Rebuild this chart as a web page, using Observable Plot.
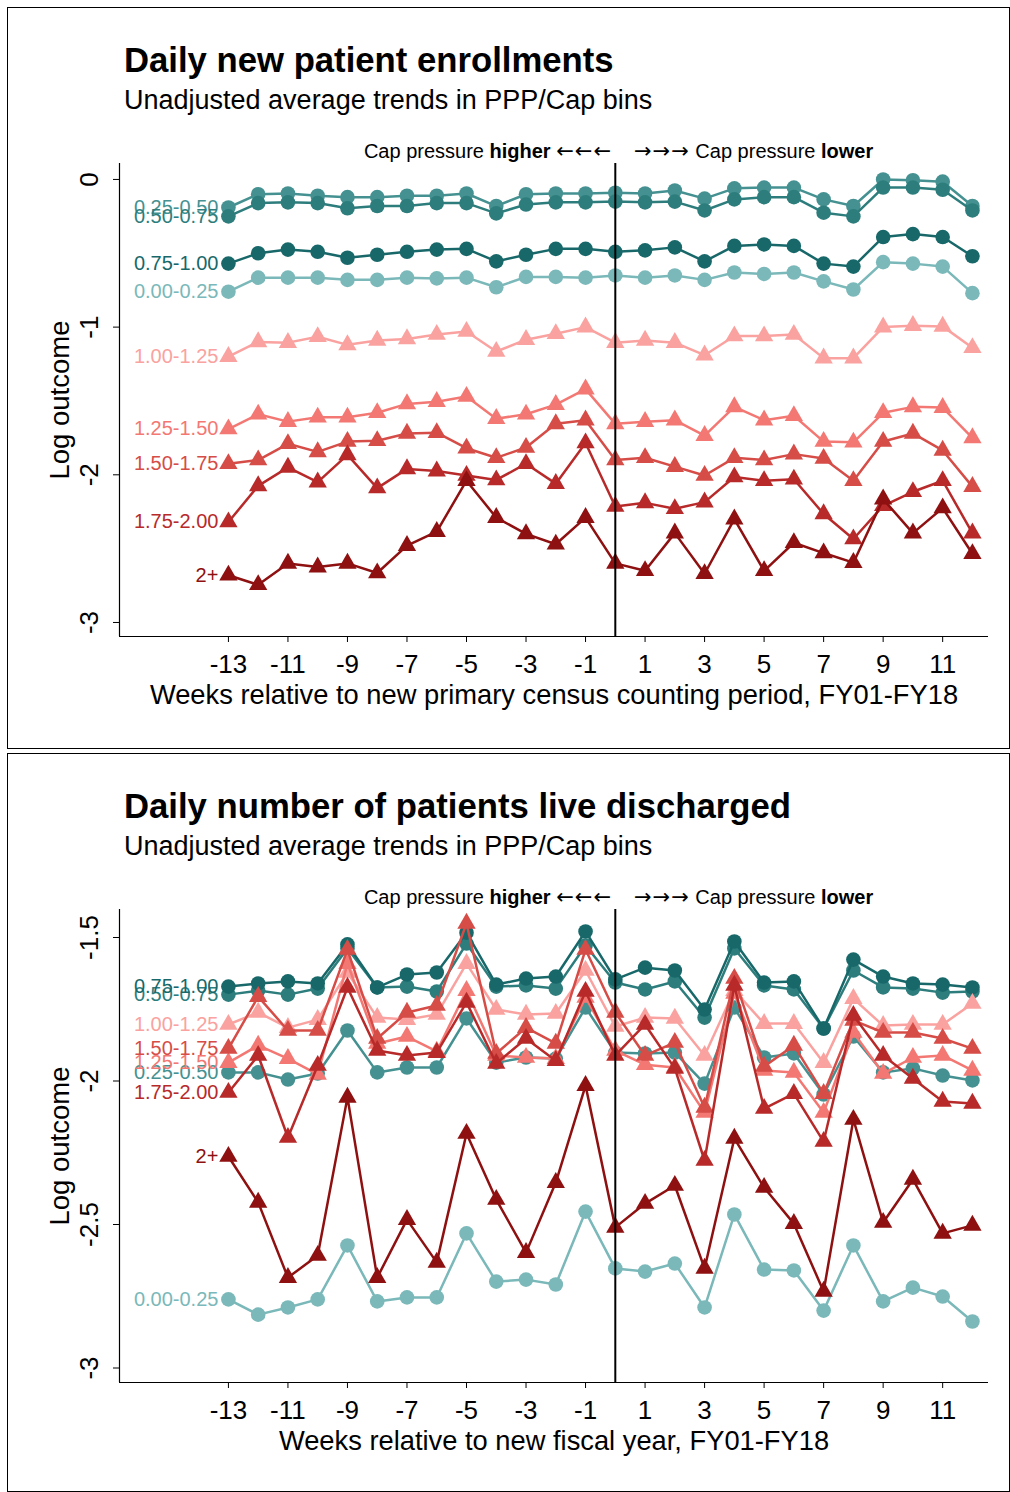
<!DOCTYPE html>
<html>
<head>
<meta charset="utf-8">
<script src="https://cdn.jsdelivr.net/npm/d3@7"></script>
<script src="https://cdn.jsdelivr.net/npm/@observablehq/plot@0.6"></script>
<style>
  html, body { margin: 0; padding: 0; background: #fff; }
  body { font-family: "Liberation Sans", Arial, Helvetica, sans-serif; color: #000; }
  #page { position: relative; width: 1010px; height: 1492px; overflow: hidden; background: #fff; }
  .panel { position: absolute; left: 7px; width: 1003px; border: 1px solid #000; box-sizing: border-box; }
  .title { position: absolute; left: 124px; font-weight: bold; font-size: 34.7px; line-height: 1; white-space: nowrap; }
  .subtitle { position: absolute; left: 124px; font-size: 27px; line-height: 1; white-space: nowrap; }
  .ann { position: absolute; font-size: 20px; line-height: 1; white-space: nowrap; }
  .arr { font-family: "DejaVu Sans", sans-serif; font-size: 21px; letter-spacing: 1px; }
  .chart { position: absolute; left: 0; }
</style>
</head>
<body>
<div id="page">
  <div class="panel" style="top:7px;height:742px;"></div>
  <div class="panel" style="top:753px;height:739px;"></div>

  <div class="title" style="top:43px;">Daily new patient enrollments</div>
  <div class="subtitle" style="top:87px;">Unadjusted average trends in PPP/Cap bins</div>
  <div class="ann" style="top:141px;right:398px;">Cap pressure <b>higher</b> <span class="arr">←←←</span></div>
  <div class="ann" style="top:141px;left:634px;"><span class="arr">→→→</span> Cap pressure <b>lower</b></div>
  <div class="chart" id="chart1" style="top:125px;"></div>

  <div class="title" style="top:789px;">Daily number of patients live discharged</div>
  <div class="subtitle" style="top:833px;">Unadjusted average trends in PPP/Cap bins</div>
  <div class="ann" style="top:887px;right:398px;">Cap pressure <b>higher</b> <span class="arr">←←←</span></div>
  <div class="ann" style="top:887px;left:634px;"><span class="arr">→→→</span> Cap pressure <b>lower</b></div>
  <div class="chart" id="chart2" style="top:871px;"></div>
</div>
<script>
// ---------- data ----------
const weeks = [-13,-12,-11,-10,-9,-8,-7,-6,-5,-4,-3,-2,-1,0,1,2,3,4,5,6,7,8,9,10,11,12];
const xTicks = [-13,-11,-9,-7,-5,-3,-1,1,3,5,7,9,11];
const bins = ["0.00-0.25","0.25-0.50","0.50-0.75","0.75-1.00","1.00-1.25","1.25-1.50","1.50-1.75","1.75-2.00","2+"];

// Panel 1: Daily new patient enrollments (log outcome)
const enrollYTicks = [0,-1,-2,-3];
const enr_000_025 = [-0.76,-0.665,-0.665,-0.665,-0.68,-0.68,-0.665,-0.67,-0.665,-0.73,-0.66,-0.66,-0.665,-0.65,-0.665,-0.65,-0.68,-0.63,-0.64,-0.63,-0.69,-0.745,-0.56,-0.57,-0.59,-0.77];
const enr_025_050 = [-0.19,-0.10,-0.095,-0.11,-0.12,-0.12,-0.11,-0.11,-0.095,-0.18,-0.10,-0.095,-0.095,-0.09,-0.095,-0.075,-0.13,-0.06,-0.055,-0.055,-0.135,-0.18,0.0,-0.005,-0.015,-0.18];
const enr_050_075 = [-0.25,-0.16,-0.155,-0.16,-0.195,-0.18,-0.18,-0.16,-0.16,-0.23,-0.17,-0.155,-0.155,-0.15,-0.155,-0.15,-0.21,-0.135,-0.12,-0.12,-0.225,-0.25,-0.055,-0.055,-0.07,-0.21];
const enr_075_100 = [-0.57,-0.50,-0.475,-0.49,-0.53,-0.51,-0.49,-0.475,-0.47,-0.555,-0.51,-0.47,-0.47,-0.49,-0.48,-0.46,-0.555,-0.45,-0.44,-0.45,-0.57,-0.59,-0.39,-0.37,-0.39,-0.52];
const enr_100_125 = [-1.20,-1.10,-1.105,-1.065,-1.12,-1.09,-1.08,-1.05,-1.03,-1.165,-1.085,-1.045,-1.00,-1.105,-1.09,-1.105,-1.19,-1.06,-1.06,-1.05,-1.21,-1.21,-1.00,-0.99,-0.995,-1.14];
const enr_125_150 = [-1.69,-1.59,-1.64,-1.61,-1.61,-1.58,-1.52,-1.505,-1.47,-1.62,-1.59,-1.525,-1.42,-1.655,-1.64,-1.63,-1.735,-1.54,-1.63,-1.60,-1.775,-1.78,-1.58,-1.54,-1.545,-1.75];
const enr_150_175 = [-1.925,-1.90,-1.79,-1.845,-1.775,-1.77,-1.72,-1.715,-1.82,-1.885,-1.815,-1.655,-1.63,-1.90,-1.885,-1.945,-2.005,-1.885,-1.90,-1.86,-1.89,-2.04,-1.775,-1.72,-1.835,-2.08];
const enr_175_200 = [-2.32,-2.075,-1.95,-2.05,-1.865,-2.09,-1.96,-1.975,-2.005,-2.035,-1.925,-2.06,-1.785,-2.215,-2.19,-2.23,-2.185,-2.015,-2.04,-2.03,-2.265,-2.435,-2.21,-2.115,-2.04,-2.395];
const enr_200p    = [-2.68,-2.745,-2.60,-2.625,-2.60,-2.665,-2.48,-2.385,-2.04,-2.29,-2.40,-2.47,-2.29,-2.60,-2.65,-2.395,-2.67,-2.30,-2.65,-2.46,-2.53,-2.595,-2.165,-2.395,-2.225,-2.535];

// Panel 2: Daily number of patients live discharged (log outcome)
const dischargeYTicks = [-1.5,-2,-2.5,-3];
const dis_000_025 = [-2.761,-2.814,-2.789,-2.761,-2.573,-2.768,-2.754,-2.754,-2.531,-2.699,-2.692,-2.709,-2.455,-2.653,-2.664,-2.636,-2.789,-2.465,-2.657,-2.660,-2.800,-2.573,-2.768,-2.720,-2.751,-2.838];
const dis_025_050 = [-1.970,-1.970,-1.995,-1.974,-1.824,-1.970,-1.953,-1.953,-1.782,-1.936,-1.918,-1.922,-1.744,-1.901,-1.904,-1.901,-2.009,-1.744,-1.918,-1.904,-2.047,-1.845,-1.970,-1.956,-1.981,-1.998];
const dis_050_075 = [-1.699,-1.685,-1.699,-1.678,-1.538,-1.674,-1.671,-1.688,-1.521,-1.671,-1.667,-1.678,-1.528,-1.657,-1.681,-1.653,-1.779,-1.538,-1.667,-1.681,-1.817,-1.615,-1.674,-1.678,-1.692,-1.688];
const dis_075_100 = [-1.671,-1.660,-1.653,-1.660,-1.524,-1.674,-1.629,-1.622,-1.483,-1.664,-1.643,-1.636,-1.479,-1.646,-1.605,-1.615,-1.751,-1.514,-1.657,-1.653,-1.817,-1.577,-1.636,-1.660,-1.664,-1.674];
const dis_100_125 = [-1.803,-1.761,-1.814,-1.786,-1.622,-1.779,-1.786,-1.768,-1.591,-1.751,-1.768,-1.765,-1.615,-1.810,-1.779,-1.782,-1.911,-1.685,-1.800,-1.800,-1.936,-1.713,-1.807,-1.803,-1.803,-1.730];
const dis_125_150 = [-1.936,-1.876,-1.922,-1.977,-1.591,-1.869,-1.845,-1.897,-1.685,-1.911,-1.918,-1.922,-1.709,-1.894,-1.943,-1.953,-2.110,-1.695,-1.963,-1.970,-2.110,-1.831,-1.974,-1.918,-1.911,-1.963];
const dis_150_175 = [-1.887,-1.706,-1.824,-1.824,-1.542,-1.852,-1.761,-1.737,-1.451,-1.904,-1.814,-1.869,-1.542,-1.761,-1.911,-1.866,-2.092,-1.643,-1.949,-1.876,-2.044,-1.789,-1.831,-1.831,-1.852,-1.887];
const dis_175_200 = [-2.040,-1.911,-2.197,-1.946,-1.674,-1.894,-1.911,-1.901,-1.726,-1.939,-1.852,-1.929,-1.688,-1.911,-1.803,-1.956,-2.277,-1.667,-2.096,-2.044,-2.211,-1.772,-1.911,-1.991,-2.071,-2.078];
const dis_200p    = [-2.263,-2.423,-2.685,-2.608,-2.057,-2.685,-2.483,-2.632,-2.183,-2.413,-2.598,-2.354,-2.016,-2.510,-2.427,-2.364,-2.653,-2.200,-2.371,-2.497,-2.733,-2.134,-2.493,-2.343,-2.531,-2.503];

// ---------- styles ----------
const binColors = ["#7AB8B9","#459191","#2D7D7D","#18686A","#FAA2A0","#F37873","#D64C47","#B82A2A","#8E1010"];
const binSymbols = ["circle","circle","circle","circle","triangle","triangle","triangle","triangle","triangle"];
const FONT = "'Liberation Sans', Arial, Helvetica, sans-serif";

function buildSeries(lists) {
  return bins.map((bin, i) => weeks.map((w, j) => ({bin, week: w, value: lists[i][j]})));
}

function makeChart(series, yDomain, yTicks, xLabel) {
  const xDomain = [-16.66, 12.54];
  const marks = [];
  series.forEach((rows, i) => {
    marks.push(Plot.line(rows, {x: "week", y: "value", stroke: binColors[i], strokeWidth: 2.5}));
    marks.push(Plot.dot(rows, {x: "week", y: "value", fill: binColors[i], stroke: "none",
      symbol: binSymbols[i], r: binSymbols[i] === "circle" ? 7.3 : 6.8}));
  });
  series.forEach((rows, i) => {
    marks.push(Plot.text([rows[0]], {x: "week", y: "value", text: "bin", textAnchor: "end", dx: -10,
      fill: binColors[i], fontSize: 20}));
  });
  marks.push(Plot.ruleX([0], {stroke: "#000", strokeWidth: 2}));
  marks.push(Plot.ruleX([xDomain[0]], {stroke: "#000", strokeWidth: 1.2}));
  marks.push(Plot.ruleY([yDomain[0]], {stroke: "#000", strokeWidth: 1.2}));
  marks.push(Plot.axisX({ticks: xTicks, tickSize: 6, tickPadding: 12, fontSize: 26,
    tickFormat: d => String(d), label: null}));
  marks.push(Plot.axisY({ticks: yTicks, tickSize: 6, tickPadding: 16, tickRotate: -90, fontSize: 26,
    tickFormat: d => String(d), label: null}));
  marks.push(Plot.text([xLabel], {text: d => d, frameAnchor: "bottom", lineAnchor: "middle", dy: 59, fontSize: 27.3}));
  marks.push(Plot.text(["Log outcome"], {text: d => d, frameAnchor: "left", textAnchor: "middle", lineAnchor: "middle",
    dx: -59, rotate: -90, fontSize: 27.5}));
  return Plot.plot({
    width: 1010, height: 600,
    marginLeft: 119, marginRight: 22, marginTop: 38, marginBottom: 89,
    x: {domain: xDomain},
    y: {domain: yDomain},
    style: {fontFamily: FONT, fontSize: "26px", color: "#000", background: "transparent", overflow: "visible"},
    marks
  });
}

const enrollSeries = buildSeries([enr_000_025, enr_025_050, enr_050_075, enr_075_100, enr_100_125, enr_125_150, enr_150_175, enr_175_200, enr_200p]);
const dischargeSeries = buildSeries([dis_000_025, dis_025_050, dis_050_075, dis_075_100, dis_100_125, dis_125_150, dis_150_175, dis_175_200, dis_200p]);

document.getElementById("chart1").appendChild(
  makeChart(enrollSeries, [-3.095, 0.108], enrollYTicks, "Weeks relative to new primary census counting period, FY01-FY18"));
document.getElementById("chart2").appendChild(
  makeChart(dischargeSeries, [-3.0505, -1.4024], dischargeYTicks, "Weeks relative to new fiscal year, FY01-FY18"));
</script>
</body>
</html>
